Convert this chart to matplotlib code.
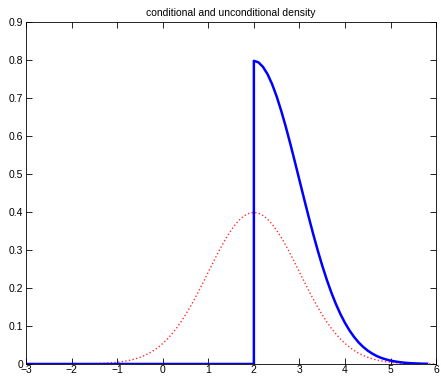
import matplotlib
matplotlib.use('Agg')
import matplotlib.pyplot as plt
import numpy as np

plt.rcParams['font.family'] = ['Liberation Sans', 'DejaVu Sans']

# unconditional density, x from -3 to 6 in steps of 0.1
x_uncond = np.round(np.arange(-3.0, 6.05, 0.1), 1)
y_uncond = [0.0, 0.0, 0.0, 0.0, 0.0, 0.0, 0.0, 0.0, 0.0001, 0.0001,
            0.0001, 0.0002, 0.0003, 0.0004, 0.0006, 0.0009, 0.0012, 0.0017, 0.0024, 0.0033,
            0.0044, 0.0060, 0.0079, 0.0104, 0.0136, 0.0175, 0.0224, 0.0283, 0.0355, 0.0440,
            0.0540, 0.0656, 0.0790, 0.0940, 0.1109, 0.1295, 0.1497, 0.1714, 0.1942, 0.2179,
            0.2420, 0.2661, 0.2897, 0.3123, 0.3332, 0.3521, 0.3683, 0.3814, 0.3910, 0.3970,
            0.3989, 0.3970, 0.3910, 0.3814, 0.3683, 0.3521, 0.3332, 0.3123, 0.2897, 0.2661,
            0.2420, 0.2179, 0.1942, 0.1714, 0.1497, 0.1295, 0.1109, 0.0940, 0.0790, 0.0656,
            0.0540, 0.0440, 0.0355, 0.0283, 0.0224, 0.0175, 0.0136, 0.0104, 0.0079, 0.0060,
            0.0044, 0.0033, 0.0024, 0.0017, 0.0012, 0.0009, 0.0006, 0.0004, 0.0003, 0.0002,
            0.0001]

# conditional density: zero below the cutoff, jump at x = 2, then the tail
x_zero = [-3.0, 2.0]
y_zero = [0.0, 0.0]
x_tail = np.round(np.arange(2.0, 5.85, 0.1), 1)
y_tail = [0.7979, 0.7940, 0.7820, 0.7628, 0.7366, 0.7042, 0.6664, 0.6246, 0.5794, 0.5322,
          0.4839, 0.4358, 0.3884, 0.3428, 0.2995, 0.2590, 0.2218, 0.1880, 0.1579, 0.1312,
          0.1080, 0.0880, 0.0710, 0.0566, 0.0448, 0.0350, 0.0272, 0.0208, 0.0158, 0.0120,
          0.0089, 0.0066, 0.0048, 0.0034, 0.0024, 0.0018, 0.0012, 0.0008, 0.0006]

x_cond = list(x_zero) + list(x_tail)
y_cond = list(y_zero) + list(y_tail)

xticks = [-3, -2, -1, 0, 1, 2, 3, 4, 5, 6]
yticks = [0, 0.1, 0.2, 0.3, 0.4, 0.5, 0.6, 0.7, 0.8, 0.9]

fig = plt.figure(figsize=(4.41, 3.77), dpi=100)
ax = fig.add_axes([0.059, 0.0345, 0.93, 0.907])

ax.plot(x_uncond, y_uncond, ':', color='#ff3030', linewidth=1.0)
ax.plot(x_cond, y_cond, '-', color='#0000ff', linewidth=1.8)

ax.set_xlim(-3, 6)
ax.set_ylim(0, 0.9)
ax.set_xticks(xticks)
ax.set_yticks(yticks)
ax.set_yticklabels(['0', '0.1', '0.2', '0.3', '0.4', '0.5', '0.6', '0.7', '0.8', '0.9'])
ax.tick_params(direction='in', top=True, right=True, length=4, width=0.6,
               labelsize=7.5, pad=2)
ax.tick_params(axis='x', pad=1)
for s in ax.spines.values():
    s.set_linewidth(0.6)
ax.set_title('conditional and unconditional density', fontsize=7.5, pad=4)

fig.savefig('out.png', dpi=100)
